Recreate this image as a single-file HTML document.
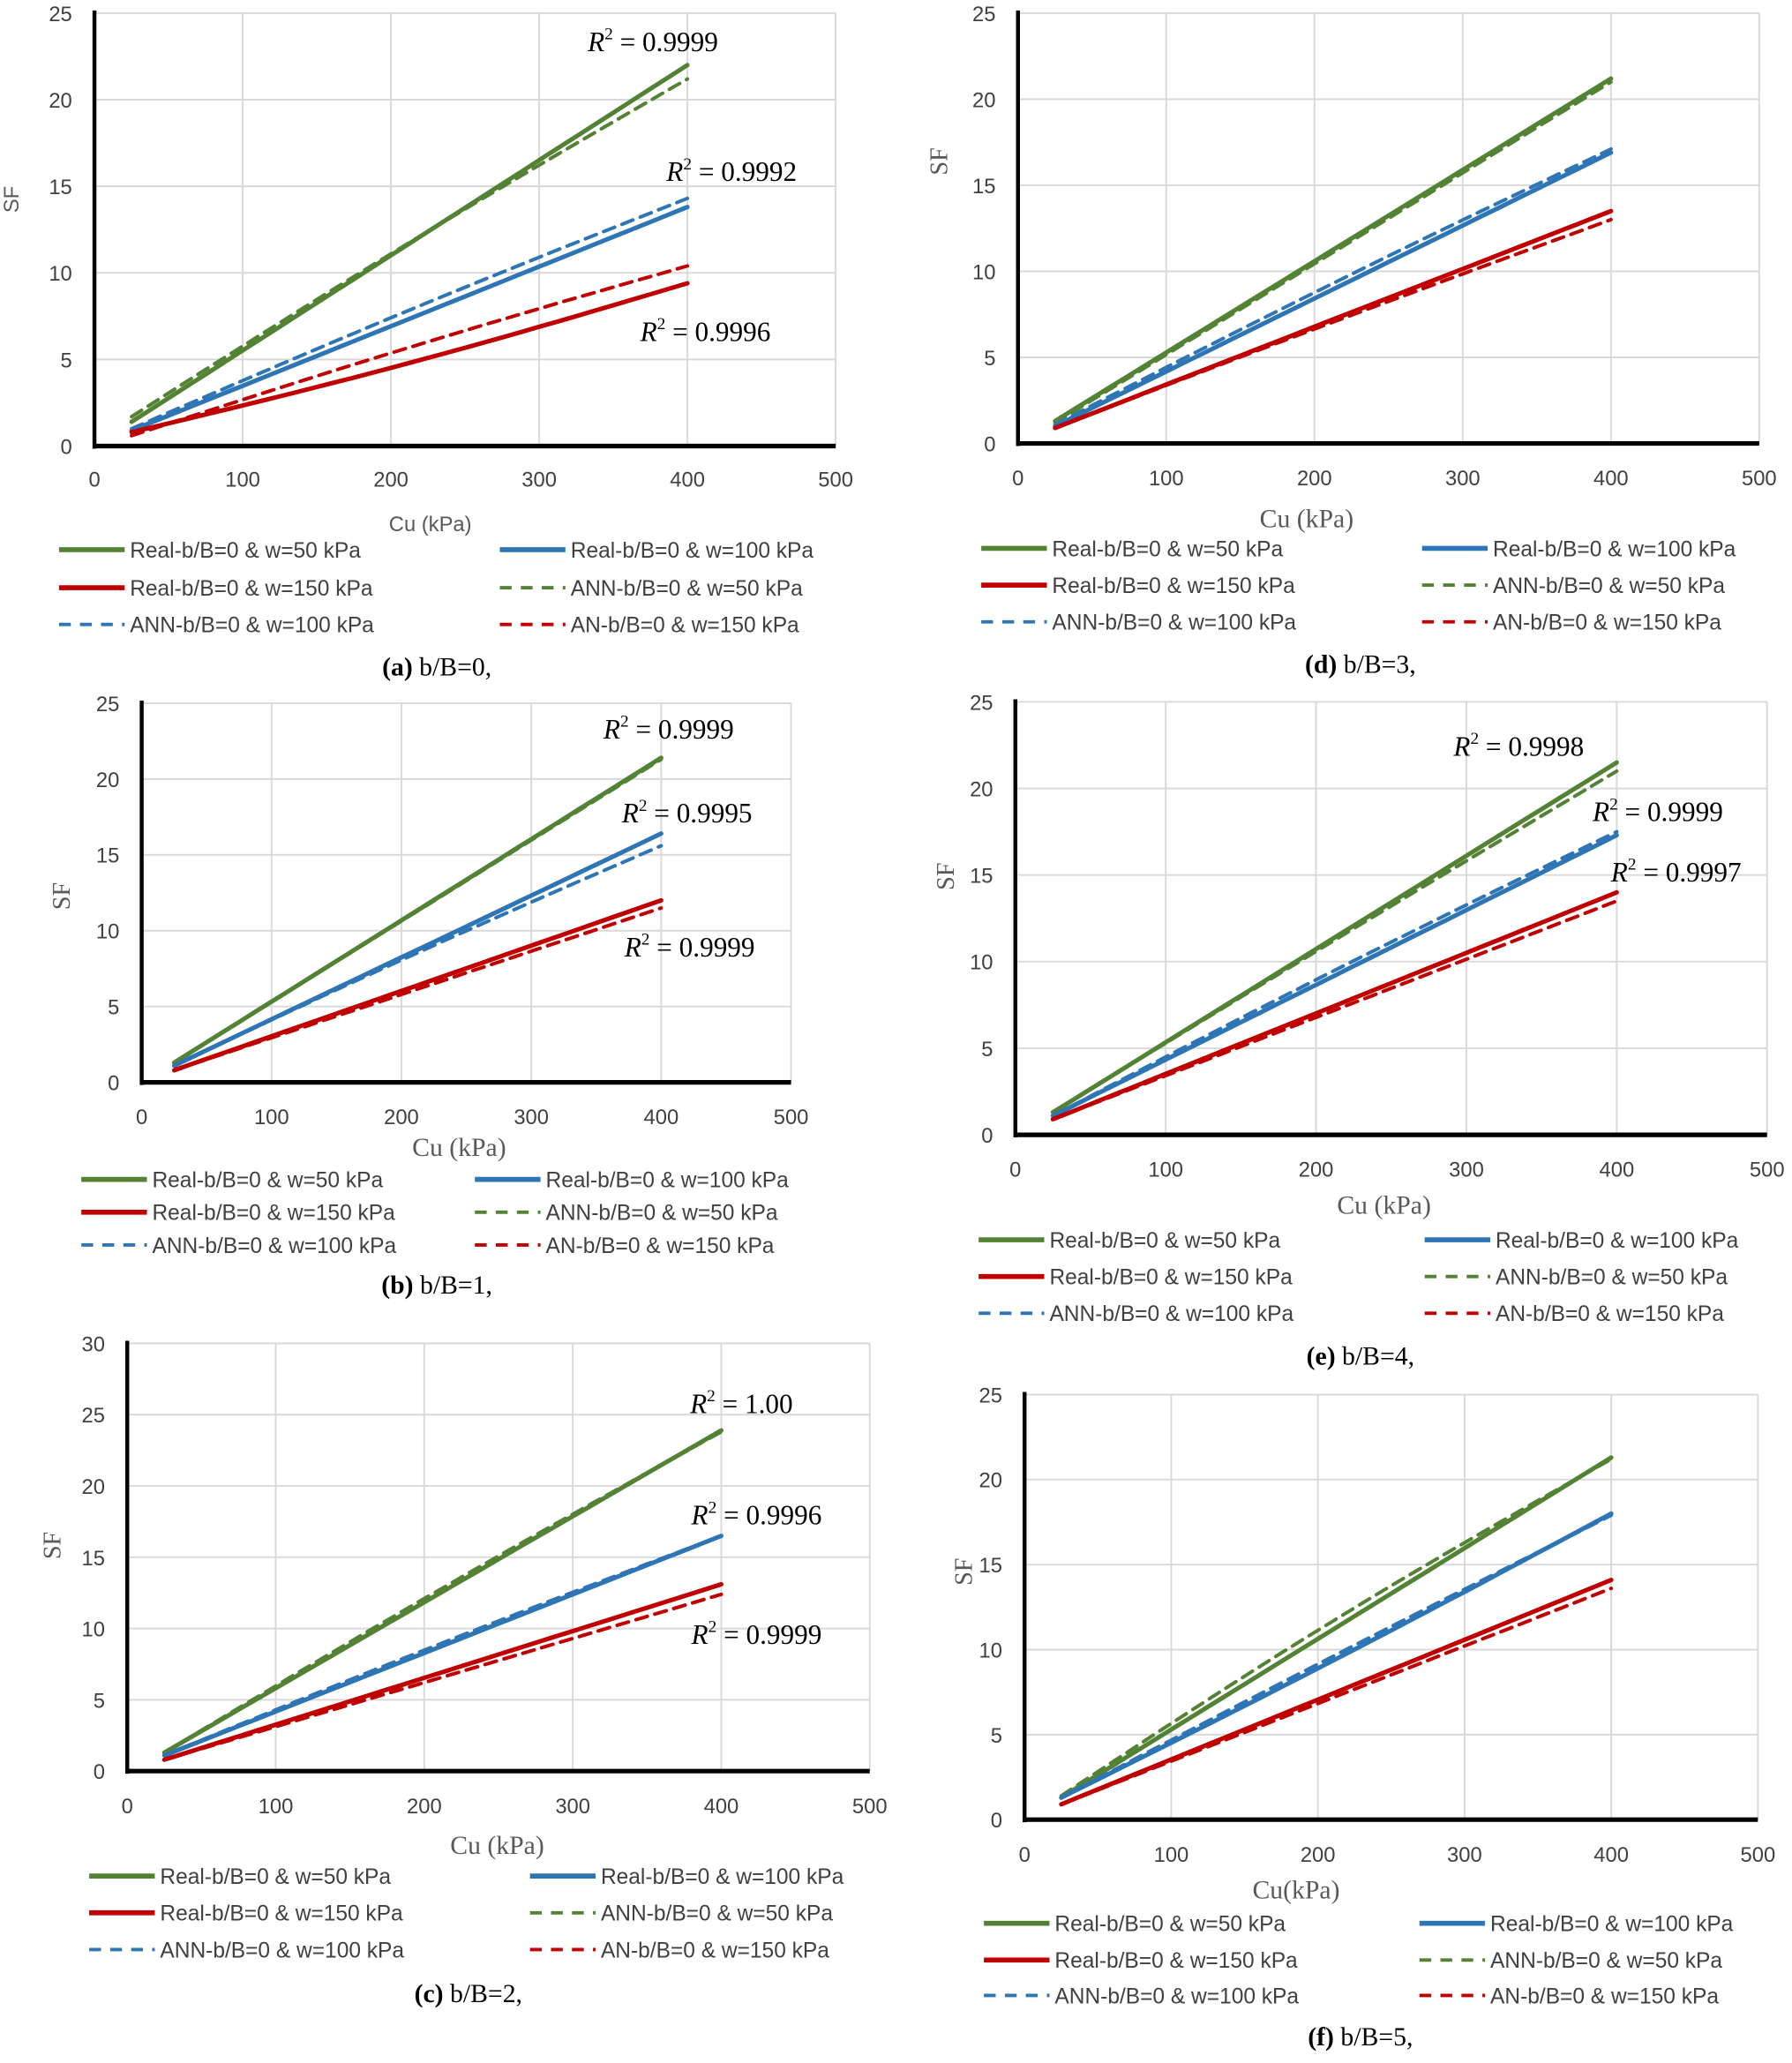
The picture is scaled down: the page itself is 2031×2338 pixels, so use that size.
<!DOCTYPE html>
<html><head><meta charset="utf-8"><style>
html,body{margin:0;padding:0;background:#fff;}
svg{display:block;}
</style></head><body>
<svg id="s" width="2031" height="2338" viewBox="0 0 1366 1572.5" preserveAspectRatio="none" xmlns="http://www.w3.org/2000/svg"></svg>
<script>
const S=document.getElementById('s');
let h='';
const G='#548235',B='#2e75b6',R='#c00000';
function panel(p){
  const {x0,x1,y0,y1,ymax,tickY,cu,cuX,cuSerif,sfX,sfY,sfSerif,leg,l1,l2,cap,capX,capY,r2,series}=p;
  const sx=v=>x0+(x1-x0)*v/500, sy=v=>y0-(y0-y1)*v/ymax;
  for(let v=0;v<=ymax;v+=5){const y=sy(v);
    if(v>0)h+=`<line x1="${x0}" y1="${y}" x2="${x1}" y2="${y}" stroke="#d9d9d9" stroke-width="1.3"/>`;
    h+=`<text x="${x0-17}" y="${y+6}" font-size="16" text-anchor="end" fill="#404040" font-family="Liberation Sans,sans-serif">${v}</text>`;}
  for(let v=0;v<=500;v+=100){const x=sx(v);
    if(v>0)h+=`<line x1="${x}" y1="${y1}" x2="${x}" y2="${y0}" stroke="#d9d9d9" stroke-width="1.3"/>`;
    h+=`<text x="${x}" y="${tickY+1}" font-size="16" text-anchor="middle" fill="#404040" font-family="Liberation Sans,sans-serif">${v}</text>`;}
  series.forEach(s=>{
    const [c,dash,a,b,curve]=s;let pts=[];
    for(let i=0;i<=30;i++){const cv=25+375*i/30;let t=i/30;let v=a+(b-a)*t+(curve||0)*Math.sin(Math.PI*t);pts.push(sx(cv).toFixed(1)+','+sy(v).toFixed(1));}
    h+=`<polyline points="${pts.join(' ')}" fill="none" stroke="${c}" stroke-width="${dash?2.7:3.4}" ${dash?'stroke-dasharray="9,6"':''} stroke-linecap="round"/>`;
  });
  h+=`<line x1="${x0}" y1="${y0}" x2="${x1}" y2="${y0}" stroke="#000" stroke-width="3.5"/>`;
  h+=`<line x1="${x0}" y1="${y1-2}" x2="${x0}" y2="${y0+2}" stroke="#000" stroke-width="3"/>`;
  const ff=s=>s?'Liberation Serif,serif':'Liberation Sans,sans-serif';
  h+=`<text x="${cuX}" y="${cu+1}" font-size="${cuSerif?20:16}" text-anchor="middle" fill="#595959" font-family="${ff(cuSerif)}">${p.cuText||'Cu (kPa)'}</text>`;
  h+=`<text transform="translate(${sfX},${sfY}) rotate(-90)" font-size="${sfSerif?19:16}" text-anchor="middle" fill="#595959" font-family="${ff(sfSerif)}">SF</text>`;
  const labels=[['Real-b/B=0 &amp; w=50 kPa',G,0],['Real-b/B=0 &amp; w=100 kPa',B,0],['Real-b/B=0 &amp; w=150 kPa',R,0],['ANN-b/B=0 &amp; w=50 kPa',G,1],['ANN-b/B=0 &amp; w=100 kPa',B,1],['AN-b/B=0 &amp; w=150 kPa',R,1]];
  labels.forEach((L,i)=>{const col=i%2?l2:l1;const y=leg[Math.floor(i/2)];
    h+=`<line x1="${col}" y1="${y}" x2="${col+50}" y2="${y}" stroke="${L[1]}" stroke-width="${L[2]?2.6:3.8}" ${L[2]?'stroke-dasharray="9,7"':''}/>`;
    h+=`<text x="${col+54}" y="${y+6}" font-size="16.5" fill="#404040" font-family="Liberation Sans,sans-serif">${L[0]}</text>`;});
  h+=`<text x="${capX}" y="${capY}" font-size="20" text-anchor="middle" fill="#000" font-family="Liberation Serif,serif"><tspan font-weight="bold">(${cap})</tspan> b/B=${p.bb},</text>`;
  (r2||[]).forEach(r=>{h+=`<text x="${r[0]}" y="${r[1]}" font-size="21" fill="#000" font-family="Liberation Serif,serif"><tspan font-style="italic">R</tspan><tspan font-size="13" dy="-9">2</tspan><tspan dy="9"> = ${r[2]}</tspan></text>`;});
}
panel({x0:72,x1:637,y0:340,y1:10,ymax:25,tickY:370,cu:404,cuX:328,sfX:14,sfY:152,leg:[419,448,476],l1:45,l2:381,cap:'a',bb:0,capX:333,capY:515,
 r2:[[448,39,'0.9999'],[508,138,'0.9992'],[488,260,'0.9996']],
 series:[[G,0,1.4,22],[G,1,1.7,21.2,0.3],[B,0,0.9,13.8],[B,1,1.0,14.3,0.2],[R,0,0.8,9.4,-0.3],[R,1,0.6,10.4,0.2]]});
panel({x0:776,x1:1341,y0:338,y1:10,ymax:25,tickY:369,cu:401,cuX:996,cuSerif:1,sfX:722,sfY:123,sfSerif:1,leg:[418,446,474],l1:748,l2:1084,cap:'d',bb:3,capX:1037,capY:513,
 series:[[G,0,1.3,21.2],[G,1,1.2,21.0],[B,0,1.0,16.9],[B,1,1.1,17.1,0.2],[R,0,0.9,13.5],[R,1,0.9,13.0,0.1]]});
panel({x0:108,x1:603,y0:825,y1:536,ymax:25,tickY:856,cu:880,cuX:350,cuSerif:1,sfX:53,sfY:683,sfSerif:1,leg:[899,924,949],l1:62,l2:362,cap:'b',bb:1,capX:333,capY:986,
 r2:[[460,563,'0.9999'],[474,627,'0.9995'],[476,729,'0.9999']],
 series:[[G,0,1.3,21.4],[G,1,1.3,21.3],[B,0,1.1,16.4],[B,1,1.1,15.6,0.2],[R,0,0.8,12.0],[R,1,0.8,11.5]]});
panel({x0:774,x1:1347,y0:865,y1:535,ymax:25,tickY:896,cu:924,cuX:1055,cuSerif:1,sfX:727,sfY:668,sfSerif:1,leg:[945,973,1001],l1:746,l2:1086,cap:'e',bb:4,capX:1037,capY:1040,
 r2:[[1108,576,'0.9998'],[1214,626,'0.9999'],[1228,672,'0.9997']],
 series:[[G,0,1.3,21.5],[G,1,1.3,21.0,0.1],[B,0,1.1,17.3],[B,1,1.1,17.5,0.2],[R,0,0.9,14.0],[R,1,0.9,13.5]]});
panel({x0:97,x1:663,y0:1350,y1:1024,ymax:30,tickY:1381,cu:1412,cuX:379,cuSerif:1,sfX:46,sfY:1178,sfSerif:1,leg:[1430,1458,1486],l1:68,l2:404,cap:'c',bb:2,capX:357,capY:1526,
 r2:[[526,1077,'1.00'],[527,1162,'0.9996'],[527,1253,'0.9999']],
 series:[[G,0,1.3,23.9],[G,1,1.3,23.8,0.3],[B,0,1.1,16.5],[B,1,1.1,16.5,0.2],[R,0,0.8,13.1],[R,1,0.8,12.4]]});
panel({x0:781,x1:1340,y0:1387,y1:1063,ymax:25,tickY:1418,cu:1446,cuX:988,cuSerif:1,cuText:'Cu(kPa)',sfX:741,sfY:1198,sfSerif:1,leg:[1466,1494,1521],l1:750,l2:1082,cap:'f',bb:5,capX:1037,capY:1559,
 series:[[G,0,1.3,21.3],[G,1,1.4,21.2,0.5],[B,0,1.3,18.0,-0.2],[B,1,1.3,17.9,0.1],[R,0,0.9,14.1],[R,1,0.9,13.6]]});
S.innerHTML=h;
</script>
</body></html>
